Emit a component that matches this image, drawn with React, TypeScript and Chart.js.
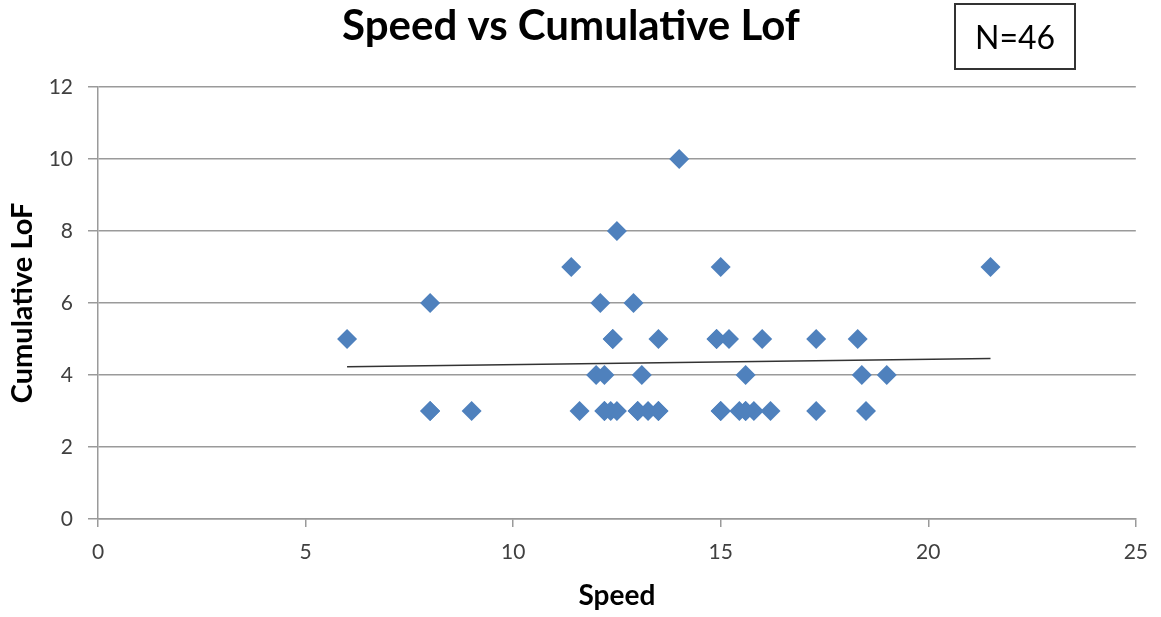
import React, { useEffect, useRef } from "react";
import { Chart, registerables } from "chart.js";

Chart.register(...registerables);

const speedValues: number[] = [
  14.0, 12.5,
  11.4, 15.0, 21.5,
  8.0, 12.1, 12.9,
  6.0, 12.4, 13.5, 14.9, 15.2, 16.0, 17.3, 18.3,
  12.0, 12.2, 13.1, 15.6, 18.4, 19.0,
  8.0, 9.0, 11.6, 12.2, 12.35, 12.5, 13.0, 13.25, 13.5, 15.0, 15.45, 15.6, 15.8, 16.2, 17.3, 18.5,
  12.2, 13.0, 15.6, 15.0, 12.4, 14.9, 8.0, 13.5,
];
const lofValues: number[] = [
  10, 8,
  7, 7, 7,
  6, 6, 6,
  5, 5, 5, 5, 5, 5, 5, 5,
  4, 4, 4, 4, 4, 4,
  3, 3, 3, 3, 3, 3, 3, 3, 3, 3, 3, 3, 3, 3, 3, 3,
  3, 3, 3, 3, 5, 5, 3, 3,
];

// Linear trendline end points
const trendSpeed: number[] = [6.0, 21.5];
const trendLof: number[] = [4.23, 4.46];

const xTicks: number[] = [0, 5, 10, 15, 20, 25];
const yTicks: number[] = [0, 2, 4, 6, 8, 10, 12];

const chartTitle = "Speed vs Cumulative Lof";
const nLabel = "N=46";
const xTitle = "Speed";
const yTitle = "Cumulative LoF";

const FONT = "Lato, 'Open Sans', 'DejaVu Sans', sans-serif";

const overlayPlugin = {
  id: "overlayText",
  afterDraw(chart: any) {
    const ctx = chart.ctx as CanvasRenderingContext2D;
    ctx.save();
    ctx.fillStyle = "#000";
    ctx.textAlign = "center";
    ctx.textBaseline = "alphabetic";
    ctx.font = `bold 42px ${FONT}`;
    ctx.fillText(chartTitle, 571, 40);

    // N box
    ctx.strokeStyle = "#333";
    ctx.lineWidth = 2;
    ctx.strokeRect(955, 4, 120, 65);
    ctx.font = `32px ${FONT}`;
    ctx.fillStyle = "#000";
    ctx.fillText(nLabel, 1015, 49);
    ctx.restore();
  },
};

export default function App() {
  const ref = useRef<HTMLCanvasElement | null>(null);

  useEffect(() => {
    document.body.style.margin = "0";
    const canvas = ref.current;
    if (!canvas) return;
    const points = speedValues.map((x, i) => ({ x, y: lofValues[i] }));
    const trend = trendSpeed.map((x, i) => ({ x, y: trendLof[i] }));
    const gridColor = "#9a9a9a";
    const chart = new Chart(canvas, {
      type: "scatter",
      data: {
        datasets: [
          {
            label: "Cumulative LoF",
            data: points,
            pointStyle: "rectRot",
            pointRadius: 10,
            pointHoverRadius: 10,
            backgroundColor: "#4F81BD",
            borderColor: "#4F81BD",
            borderWidth: 0,
            order: 1,
          },
          {
            label: "Trend",
            data: trend,
            showLine: true,
            pointRadius: 0,
            borderColor: "#333",
            borderWidth: 1.5,
            fill: false,
            order: 0,
          } as any,
        ],
      },
      plugins: [overlayPlugin],
      options: {
        responsive: false,
        animation: false,
        devicePixelRatio: 1,
        layout: { padding: { top: 87, right: 24, left: 0, bottom: 0 } },
        plugins: {
          legend: { display: false },
          title: { display: false },
          tooltip: { enabled: false },
        },
        scales: {
          x: {
            type: "linear",
            min: 0,
            max: 25,
            afterFit: (s: any) => {
              s.height = 98;
            },
            afterBuildTicks: (s: any) => {
              s.ticks = xTicks.map((v) => ({ value: v }));
            },
            ticks: {
              color: "#404040",
              font: { family: FONT, size: 21 },
              padding: 13,
            },
            grid: {
              display: true,
              drawOnChartArea: false,
              drawTicks: true,
              tickLength: 8,
              color: gridColor,
              lineWidth: 1.5,
            },
            border: { display: true, color: gridColor, width: 1.5 },
            title: {
              display: true,
              text: xTitle,
              color: "#000",
              font: { family: FONT, size: 28, weight: "bold" },
              padding: { top: 0, bottom: 4 },
            },
          },
          y: {
            type: "linear",
            min: 0,
            max: 12,
            afterFit: (s: any) => {
              s.width = 98;
            },
            afterBuildTicks: (s: any) => {
              s.ticks = yTicks.map((v) => ({ value: v }));
            },
            ticks: {
              color: "#404040",
              font: { family: FONT, size: 21 },
              padding: 15,
            },
            grid: {
              display: true,
              drawOnChartArea: true,
              drawTicks: true,
              tickLength: 10,
              color: gridColor,
              lineWidth: 1.5,
            },
            border: { display: true, color: gridColor, width: 1.5 },
            title: {
              display: true,
              text: yTitle,
              color: "#000",
              font: { family: FONT, size: 29, weight: "bold" },
              padding: { top: 5, bottom: 0 },
            },
          },
        },
      } as any,
    });
    return () => chart.destroy();
  }, []);

  return (
    <div style={{ width: 1161, height: 617, background: "#fff" }}>
      <canvas ref={ref} width={1161} height={617} style={{ display: "block" }} />
    </div>
  );
}
